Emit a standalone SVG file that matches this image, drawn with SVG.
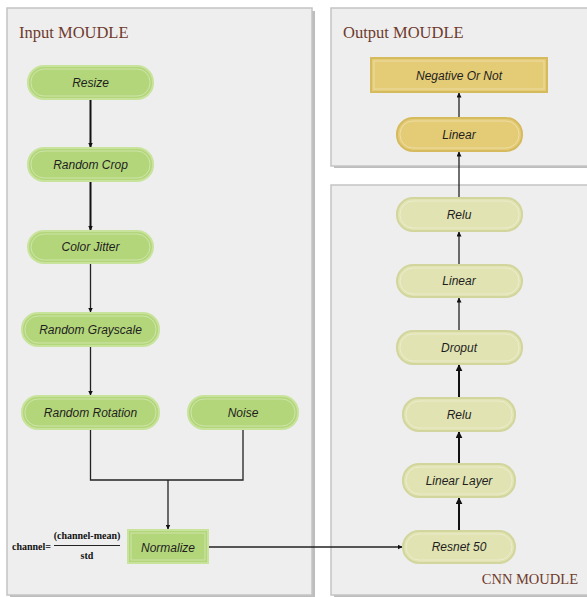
<svg xmlns="http://www.w3.org/2000/svg" width="587" height="597" viewBox="0 0 587 597">
<style>
.panel{fill:#eeeeee;stroke:#c4c4c4;stroke-width:1.5}
.shadow{fill:#bdbdbd}
.title{font-family:"Liberation Serif",serif;fill:#6e3b2c;font-size:16.5px}
.lbl{font-family:"Liberation Sans",sans-serif;font-size:12px;fill:#1e1e1e;text-anchor:middle;font-style:italic}
.g{fill:#b4d67b;stroke:#c8e39b;stroke-width:2}
.y{fill:#e4cb76;stroke:#d6bb5e;stroke-width:2}
.p{fill:#e1e3b2;stroke:#d2d59c;stroke-width:2}
.hl{fill:none;stroke:#ffffff;stroke-opacity:0.35;stroke-width:1}
.c{fill:none;stroke:#222;stroke-width:1.3}
.c2{fill:none;stroke:#111;stroke-width:2}
.f{font-family:"Liberation Serif",serif;font-weight:bold;font-size:10px;fill:#111}
</style>
<defs>
<marker id="ah" viewBox="0 0 10 10" refX="9" refY="5" markerWidth="5" markerHeight="5" markerUnits="userSpaceOnUse" orient="auto">
<path d="M0,0 L10,5 L0,10 z" fill="#111"/>
</marker>
<marker id="ah2" viewBox="0 0 10 10" refX="9" refY="5" markerWidth="7" markerHeight="7" markerUnits="userSpaceOnUse" orient="auto">
<path d="M0,0 L10,5 L0,10 z" fill="#111"/>
</marker>
</defs>
<rect width="587" height="597" fill="#ffffff"/>

<g id="panel-input">
<rect class="shadow" x="10" y="11" width="305" height="586"/>
<rect class="panel" x="7" y="8" width="305" height="587"/>
<text class="title" x="19" y="38">Input MOUDLE</text>
</g>
<g id="panel-output">
<rect class="shadow" x="334" y="11" width="253" height="157"/>
<rect class="panel" x="331" y="8" width="258" height="158"/>
<text class="title" x="343" y="38">Output MOUDLE</text>
</g>
<g id="panel-cnn">
<rect class="shadow" x="334" y="188" width="253" height="409"/>
<rect class="panel" x="331" y="185" width="258" height="410"/>
<text class="title" x="578" y="584" text-anchor="end" style="font-size:14.5px">CNN MOUDLE</text>
</g>

<g id="connectors">
<line class="c2" x1="90.5" y1="99" x2="90.5" y2="147" marker-end="url(#ah)"/>
<line class="c2" x1="90.5" y1="181" x2="90.5" y2="230" marker-end="url(#ah)"/>
<line class="c" x1="90.5" y1="263" x2="90.5" y2="312" marker-end="url(#ah)"/>
<line class="c" x1="90.5" y1="346" x2="90.5" y2="395" marker-end="url(#ah)"/>
<polyline class="c" points="90.5,429 90.5,480 243,480 243,429"/>
<line class="c" x1="168" y1="480" x2="168" y2="529" marker-end="url(#ah)"/>
<line class="c" x1="208" y1="547" x2="402" y2="547" marker-end="url(#ah)"/>
<line class="c2" x1="459" y1="531" x2="459" y2="498" marker-end="url(#ah2)"/>
<line class="c2" x1="459" y1="464" x2="459" y2="432" marker-end="url(#ah2)"/>
<line class="c2" x1="459" y1="398" x2="459" y2="365" marker-end="url(#ah2)"/>
<line class="c" x1="459" y1="331" x2="459" y2="298" marker-end="url(#ah)"/>
<line class="c" x1="459" y1="265" x2="459" y2="232" marker-end="url(#ah)"/>
<line class="c" x1="459" y1="198" x2="459" y2="152" marker-end="url(#ah)"/>
<line class="c" x1="459" y1="118" x2="459" y2="93" marker-end="url(#ah)"/>
</g>

<g id="n-resize"><rect class="g" x="28" y="66" width="125" height="33" rx="16"/><rect class="hl" x="31" y="69" width="119" height="27" rx="13"/><text class="lbl" x="90.5" y="87">Resize</text></g>
<g id="n-crop"><rect class="g" x="28" y="148" width="125" height="33" rx="16"/><rect class="hl" x="31" y="151" width="119" height="27" rx="13"/><text class="lbl" x="90.5" y="169">Random Crop</text></g>
<g id="n-jitter"><rect class="g" x="28" y="231" width="125" height="32" rx="16"/><rect class="hl" x="31" y="234" width="119" height="26" rx="13"/><text class="lbl" x="90.5" y="251">Color Jitter</text></g>
<g id="n-gray"><rect class="g" x="22" y="313" width="137" height="33" rx="16"/><rect class="hl" x="25" y="316" width="131" height="27" rx="13"/><text class="lbl" x="90.5" y="334">Random Grayscale</text></g>
<g id="n-rot"><rect class="g" x="22" y="396" width="137" height="33" rx="16"/><rect class="hl" x="25" y="399" width="131" height="27" rx="13"/><text class="lbl" x="90.5" y="417">Random Rotation</text></g>
<g id="n-noise"><rect class="g" x="188" y="396" width="110" height="33" rx="16"/><rect class="hl" x="191" y="399" width="104" height="27" rx="13"/><text class="lbl" x="243" y="417">Noise</text></g>
<g id="n-norm"><rect class="g" x="128" y="530" width="80" height="33"/><rect class="hl" x="131" y="533" width="74" height="27"/><text class="lbl" x="168" y="552">Normalize</text></g>

<g id="formula">
<text class="f" x="12" y="550">channel=</text>
<text class="f" x="87" y="539" text-anchor="middle">(channel-mean)</text>
<line x1="54" y1="545.5" x2="120" y2="545.5" stroke="#222" stroke-width="1"/>
<text class="f" x="87" y="559" text-anchor="middle">std</text>
</g>

<g id="n-neg"><rect class="y" x="371" y="58" width="176" height="34"/><rect class="hl" x="374" y="61" width="170" height="28"/><text class="lbl" x="459" y="80">Negative Or Not</text></g>
<g id="n-lin-out"><rect class="y" x="397" y="118" width="125" height="33" rx="16"/><rect class="hl" x="400" y="121" width="119" height="27" rx="13"/><text class="lbl" x="459" y="139">Linear</text></g>

<g id="n-relu1"><rect class="p" x="397" y="198" width="125" height="33" rx="16"/><rect class="hl" x="400" y="201" width="119" height="27" rx="13"/><text class="lbl" x="459" y="219">Relu</text></g>
<g id="n-lin"><rect class="p" x="397" y="265" width="125" height="32" rx="16"/><rect class="hl" x="400" y="268" width="119" height="26" rx="13"/><text class="lbl" x="459" y="285">Linear</text></g>
<g id="n-drop"><rect class="p" x="397" y="331" width="125" height="33" rx="16"/><rect class="hl" x="400" y="334" width="119" height="27" rx="13"/><text class="lbl" x="459" y="352">Droput</text></g>
<g id="n-relu2"><rect class="p" x="403" y="398" width="112" height="33" rx="16"/><rect class="hl" x="406" y="401" width="106" height="27" rx="13"/><text class="lbl" x="459" y="419">Relu</text></g>
<g id="n-linlayer"><rect class="p" x="403" y="464" width="112" height="33" rx="16"/><rect class="hl" x="406" y="467" width="106" height="27" rx="13"/><text class="lbl" x="459" y="485">Linear Layer</text></g>
<g id="n-resnet"><rect class="p" x="403" y="531" width="112" height="32" rx="16"/><rect class="hl" x="406" y="534" width="106" height="26" rx="13"/><text class="lbl" x="459" y="551">Resnet 50</text></g>
</svg>
